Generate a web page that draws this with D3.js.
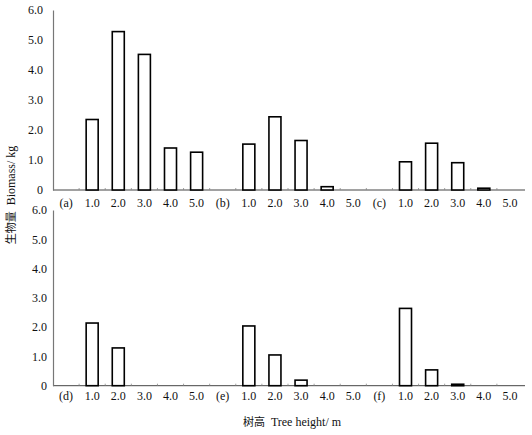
<!DOCTYPE html>
<html>
<head>
<meta charset="utf-8">
<script src="https://cdn.jsdelivr.net/npm/d3@7"></script>
<style>
  body { margin: 0; background: #fff; }
</style>
</head>
<body>
<div id="chart"></div>
<script>
// tree height classes and site labels
const heights = ["1.0", "2.0", "3.0", "4.0", "5.0"];
const topSites = ["(a)", "(b)", "(c)"];
const bottomSites = ["(d)", "(e)", "(f)"];

// biomass (kg) per height class
const valuesA = [2.35, 5.28, 4.52, 1.40, 1.26];
const valuesB = [1.53, 2.44, 1.65, 0.11, 0];
const valuesC = [0.94, 1.56, 0.91, 0.06, 0];
const valuesD = [2.14, 1.29, 0, 0, 0];
const valuesE = [2.04, 1.05, 0.19, 0, 0];
const valuesF = [2.64, 0.54, 0.05, 0, 0];

const yTicks = [0, 1, 2, 3, 4, 5, 6];

const width = 532;
const height = 435;
const serif = "'Liberation Serif', 'Times New Roman', serif";
const cjk = "'Noto Sans CJK SC', sans-serif";

const svg = d3.select("#chart")
  .append("svg")
  .attr("width", width)
  .attr("height", height);

function drawPanel(sites, seriesList, y0, y1, labelY, tickDx) {
  const slots = [];
  sites.forEach((s, i) => {
    slots.push({ key: s, label: s, value: null });
    heights.forEach((h, j) => slots.push({ key: s + h, label: h, value: seriesList[i][j] }));
  });

  const x = d3.scaleBand()
    .domain(slots.map(d => d.key))
    .range([53, 523])
    .padding(0);

  const y = d3.scaleLinear()
    .domain([0, 6])
    .range([y0, y1]);

  const g = svg.append("g");

  // x axis line
  g.append("line")
    .attr("x1", 53).attr("x2", 525)
    .attr("y1", y0).attr("y2", y0)
    .attr("stroke", "#444").attr("stroke-width", 1);

  // small boundary ticks
  g.selectAll(".xtick")
    .data(slots.slice(1))
    .enter()
    .append("line")
    .attr("x1", d => x(d.key)).attr("x2", d => x(d.key))
    .attr("y1", y0).attr("y2", y0 - 2)
    .attr("stroke", "#888").attr("stroke-width", 0.8);

  // x labels
  g.selectAll(".xlab")
    .data(slots)
    .enter()
    .append("text")
    .attr("x", d => x(d.key) + x.bandwidth() / 2)
    .attr("y", labelY)
    .attr("text-anchor", "middle")
    .attr("fill", "#111")
    .style("font-family", serif)
    .style("font-size", "12px")
    .text(d => d.label);

  // y axis
  const yAxis = d3.axisLeft(y)
    .tickValues(yTicks)
    .tickSize(0)
    .tickPadding(tickDx)
    .tickFormat(d => d === 0 ? "0" : d3.format(".1f")(d));
  const ya = g.append("g")
    .attr("transform", `translate(53, 0)`)
    .call(yAxis);
  ya.select(".domain").attr("stroke", "#777").attr("stroke-width", 1.2);
  ya.selectAll("text")
    .style("font-size", "12px")
    .style("font-family", serif)
    .attr("fill", "#111");

  // bars
  const bw = x.bandwidth() * 0.46;
  g.selectAll(".bar")
    .data(slots.filter(d => d.value))
    .enter()
    .append("rect")
    .attr("x", d => x(d.key) + (x.bandwidth() - bw) / 2)
    .attr("y", d => y(d.value))
    .attr("width", bw)
    .attr("height", d => y0 - y(d.value))
    .attr("fill", "#fff")
    .attr("stroke", "#000")
    .attr("stroke-width", 1.6);
}

drawPanel(topSites, [valuesA, valuesB, valuesC], 190, 10, 207, 10);
drawPanel(bottomSites, [valuesD, valuesE, valuesF], 385.7, 210, 400, 6);

// y axis title
const yTitle = svg.append("text")
  .attr("transform", "translate(15, 195) rotate(-90)")
  .attr("text-anchor", "middle")
  .attr("fill", "#111")
  .style("font-size", "12px")
  .style("font-family", serif);
yTitle.append("tspan").style("font-family", cjk).style("font-size", "11px").text("生物量");
yTitle.append("tspan").attr("dx", 6).text("Biomass/ kg");

// x axis title
const xTitle = svg.append("text")
  .attr("x", 292)
  .attr("y", 426)
  .attr("text-anchor", "middle")
  .attr("fill", "#111")
  .style("font-size", "12px")
  .style("font-family", serif);
xTitle.append("tspan").style("font-family", cjk).style("font-size", "11px").text("树高");
xTitle.append("tspan").attr("dx", 6).text("Tree height/ m");
</script>
</body>
</html>
